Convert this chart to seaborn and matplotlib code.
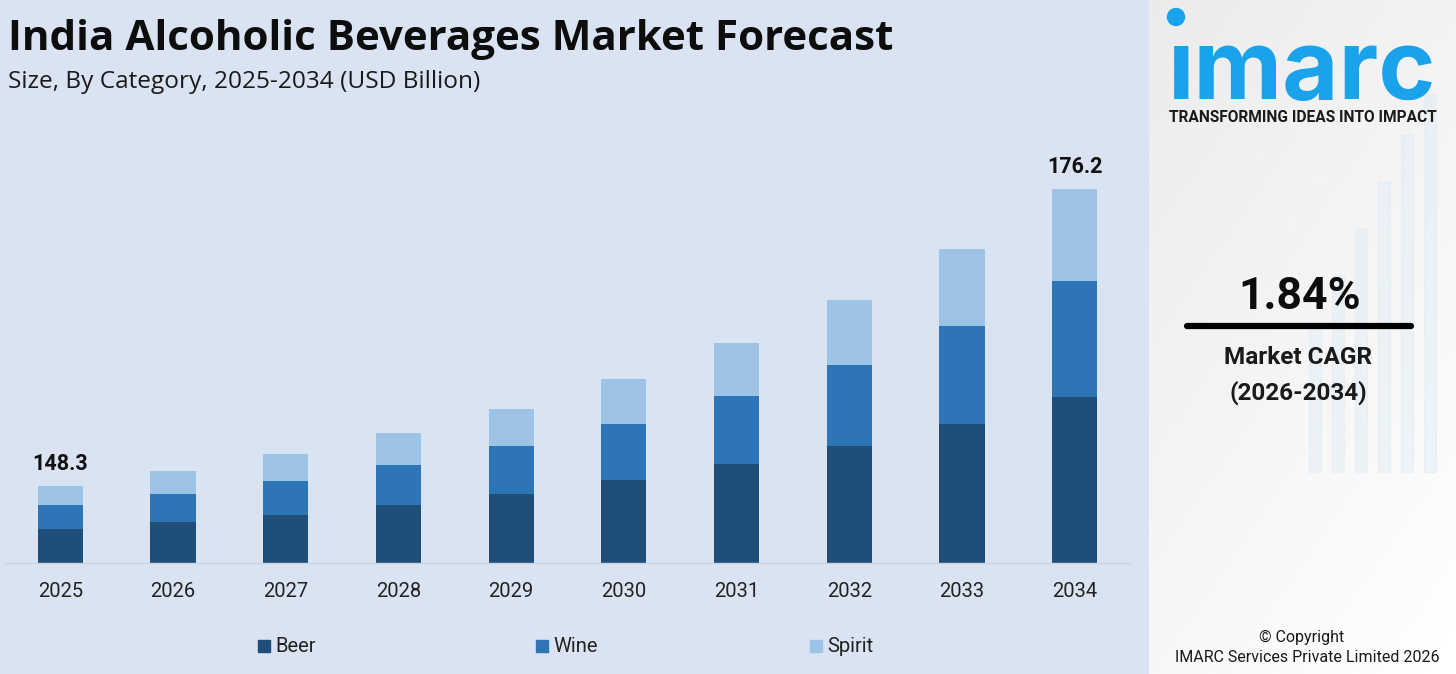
import numpy as np
import matplotlib
matplotlib.use('Agg')
import matplotlib.pyplot as plt
import seaborn as sns
import pandas as pd

# chart data (USD Billion; axis floor sits near 141.1)
years = ['2025', '2026', '2027', '2028', '2029', '2030', '2031', '2032', '2033', '2034']
beer = [144.26, 144.94, 145.63, 146.57, 147.60, 148.89, 150.39, 152.11, 154.17, 156.71]
wine = [2.31, 2.66, 3.16, 3.73, 4.51, 5.29, 6.36, 7.61, 9.17, 10.89]
spirit = [1.73, 2.10, 2.51, 3.00, 3.47, 4.20, 4.98, 6.05, 7.23, 8.60]
categories = ['Beer', 'Wine', 'Spirit']
colors = ['#1f4e79', '#2e75b6', '#9dc3e6']
cagr = '1.84%'
cagr_period = '(2026-2034)'

df = pd.DataFrame({'year': years, 'Beer': beer, 'Wine': wine, 'Spirit': spirit})
df['bw'] = df['Beer'] + df['Wine']
df['total'] = df['bw'] + df['Spirit']

sns.set_theme(style='white')
plt.rcParams['font.family'] = ['Roboto', 'DejaVu Sans']

W, H = 1456, 674
fig = plt.figure(figsize=(W / 100, H / 100), dpi=100)
bg = '#dae3f1'

# left panel background
fig.patches.append(plt.Rectangle((0, 0), 1149 / W, 1, transform=fig.transFigure,
                                 color=bg, zorder=-10))

# right panel: soft white/grey gradient
rp = fig.add_axes([1149 / W, 0, 1 - 1149 / W, 1], zorder=-5)
grad = np.linspace(0, 1, 256)
gx, gy = np.meshgrid(grad, grad)
img = 0.92 + 0.08 * (0.4 * gx + 0.6 * gy)
rp.imshow(img, cmap='gray', vmin=0, vmax=1, aspect='auto', extent=[0, 1, 0, 1])
# faint decorative bars, like the photo behind
for i, h in enumerate([0.22, 0.29, 0.36, 0.43, 0.50, 0.56]):
    rp.add_patch(plt.Rectangle((0.52 + i * 0.075, 0.30), 0.04, h, color='#d6e8f5', alpha=0.35))
rp.set_xlim(0, 1)
rp.set_ylim(0, 1)
rp.axis('off')

# main axes
left, right = 5, 1130
base_y, top_y = 562.5, 150
ax = fig.add_axes([left / W, (H - base_y) / H, (right - left) / W, (base_y - top_y) / H])
ax.set_facecolor('none')

for col, c in zip(['total', 'bw', 'Beer'], colors[::-1]):
    sns.barplot(data=df, x='year', y=col, color=c, width=0.4, ax=ax,
                saturation=1, linewidth=0, edgecolor='none')

floor = 141.14
ax.set_ylim(floor, floor + (base_y - top_y) * 0.0939)
ax.set_xlim(-0.49, 9.49)

for s in ['top', 'right', 'left']:
    ax.spines[s].set_visible(False)
ax.spines['bottom'].set_color('#c9d1de')
ax.spines['bottom'].set_linewidth(1)
ax.set_yticks([])
ax.set_xlabel('')
ax.set_ylabel('')
ax.tick_params(axis='x', length=0, pad=14, labelsize=14.5, labelcolor='#222222')

# value labels on first and last bar
for i in [0, len(years) - 1]:
    ax.annotate(f"{df['total'][i]:.1f}", (i, df['total'][i]), xytext=(0, 8),
                textcoords='offset points', ha='center', va='bottom',
                fontsize=15.5, fontweight='bold', color='#111111')

# title block
fig.text(8 / W, 1 - 39 / H, 'India Alcoholic Beverages Market Forecast', fontsize=30.3,
         fontweight='bold', color='#0d0d0d', va='center', ha='left',
         family=['Open Sans', 'DejaVu Sans'])
fig.text(8 / W, 1 - 82 / H, 'Size, By Category, 2025-2034 (USD Billion)', fontsize=17.6,
         color='#1a1a1a', va='center', ha='left', family=['Open Sans', 'DejaVu Sans'])

# legend
for name, col, x in zip(categories, colors, [258, 536, 810]):
    fig.patches.append(plt.Rectangle((x / W, 1 - 652 / H), 12 / W, 12 / H,
                                     transform=fig.transFigure, color=col))
    fig.text((x + 17) / W, 1 - 646 / H, name, fontsize=14.5, color='#222222',
             va='center', ha='left')

# logo
fig.patches.append(matplotlib.patches.Ellipse((1176 / W, 1 - 17 / H), 17 / W, 17 / H,
                                              transform=fig.transFigure, color='#1aa3ea'))
fig.text(1302 / W, 1 - 99 / H, 'ımarc', fontsize=70, fontweight='bold', color='#1aa3ea',
         va='baseline', ha='center', family=['Inter', 'DejaVu Sans'])
fig.text(1303 / W, 1 - 117 / H, 'TRANSFORMING IDEAS INTO IMPACT', fontsize=11.2,
         fontweight='bold', color='#1a1a1a', va='center', ha='center')

# CAGR
fig.text(1300 / W, 1 - 297 / H, cagr, fontsize=32, fontweight='bold', color='#0d0d0d',
         va='center', ha='center')
fig.add_artist(plt.Line2D([1187 / W, 1411 / W], [1 - 326 / H, 1 - 326 / H],
                          transform=fig.transFigure, color='black', linewidth=4.5))
fig.text(1298 / W, 1 - 358 / H, 'Market CAGR', fontsize=17.5, fontweight='bold',
         color='#1a1a1a', va='center', ha='center')
fig.text(1298 / W, 1 - 393 / H, cagr_period, fontsize=17.5, fontweight='bold',
         color='#1a1a1a', va='center', ha='center')

fig.text(1302 / W, 1 - 637 / H, '© Copyright', fontsize=11.5, color='#1a1a1a',
         va='center', ha='center')
fig.text(1307 / W, 1 - 658 / H, 'IMARC Services Private Limited 2026', fontsize=11.5,
         color='#1a1a1a', va='center', ha='center')

fig.savefig('out.png', dpi=100)
